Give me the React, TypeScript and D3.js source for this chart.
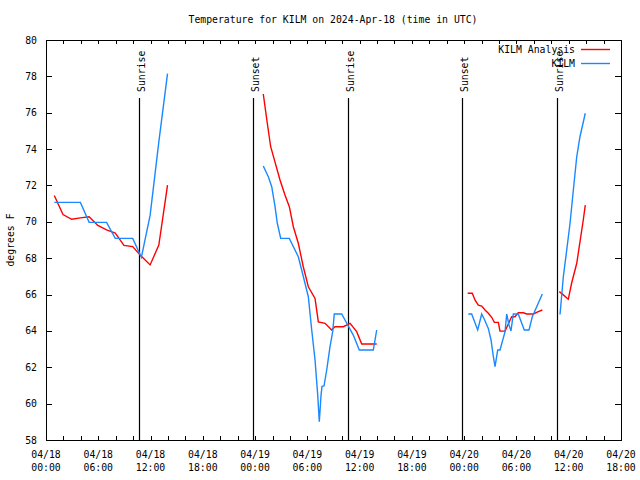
import React from "react";
import * as d3 from "d3";

// ---------- data (hours after 2024-04-18 00:00 UTC, °F) ----------
const analysisSeg1: [number, number][] = [
  [0.95, 71.45], [1.95, 70.4], [2.95, 70.14], [3.95, 70.22], [4.95, 70.28], [5.95, 69.8],
  [6.95, 69.56], [7.95, 69.38], [8.95, 68.7], [9.95, 68.64], [10.95, 68.1], [11.95, 67.63],
  [12.95, 68.72], [13.95, 72.02],
];
const analysisSeg2: [number, number][] = [
  [24.94, 77.03], [25.4, 75.42], [25.79, 74.13], [26.28, 73.3], [26.86, 72.3], [27.43, 71.47],
  [27.93, 70.83], [28.39, 69.73], [28.96, 68.82], [29.53, 67.53], [30.11, 66.43], [30.88, 65.79],
  [31.26, 64.5], [32.03, 64.42], [32.79, 64.05], [33.17, 64.23], [34.13, 64.23], [34.9, 64.42],
  [35.66, 63.96], [36.24, 63.28], [37.96, 63.28],
];
const analysisSeg3: [number, number][] = [
  [48.4, 66.07], [48.93, 66.07], [49.24, 65.7], [49.62, 65.42], [50.01, 65.37], [50.39, 65.15],
  [50.77, 64.97], [51.16, 64.75], [51.46, 64.47], [51.92, 64.47], [52.11, 63.99], [52.69, 63.99],
  [53.45, 64.78], [53.83, 64.78], [54.21, 65.0], [54.79, 65.0], [55.18, 64.93], [55.94, 64.93],
  [56.51, 65.06], [56.97, 65.15],
];
const analysisSeg4: [number, number][] = [
  [58.92, 66.16], [59.38, 65.98], [59.95, 65.74], [60.33, 66.62], [60.92, 67.72], [61.67, 70.1],
  [61.9, 70.92],
];

const obsSeg1: [number, number][] = [
  [0.95, 71.07], [1.95, 71.07], [2.95, 71.07], [3.95, 71.07], [4.95, 69.97], [5.95, 69.97],
  [6.95, 69.97], [7.95, 69.09], [8.95, 69.09], [9.95, 69.09], [10.95, 68.05], [11.95, 70.35],
  [12.95, 74.4], [13.95, 78.15],
];
const obsSeg2: [number, number][] = [
  [24.94, 73.07], [25.52, 72.48], [25.91, 71.93], [26.29, 70.83], [26.55, 69.92], [26.94, 69.09],
  [27.93, 69.09], [28.96, 68.08], [29.35, 67.35], [30.11, 65.88], [30.5, 64.05], [30.88, 62.4],
  [31.19, 60.47], [31.37, 59.0], [31.57, 60.47], [31.68, 60.95], [31.91, 60.97], [32.22, 61.85],
  [32.6, 63.13], [32.91, 63.96], [33.09, 64.93], [33.94, 64.93], [34.52, 64.42], [35.27, 63.77],
  [35.96, 62.95], [37.57, 62.95], [37.96, 64.05],
];
const obsSeg3: [number, number][] = [
  [48.47, 64.93], [48.86, 64.93], [49.55, 64.05], [50.01, 64.93], [50.31, 64.64], [50.77, 64.14],
  [51.08, 63.5], [51.35, 62.58], [51.54, 62.03], [51.85, 62.95], [52.11, 62.95], [52.49, 63.6],
  [52.69, 63.96], [52.88, 64.93], [53.14, 64.33], [53.37, 64.0], [53.64, 64.93], [54.21, 64.93],
  [54.9, 64.05], [55.44, 64.05], [55.82, 64.78], [56.97, 66.03],
];
const obsSeg4: [number, number][] = [
  [59.0, 64.9], [59.38, 66.98], [59.77, 68.45], [60.15, 69.92], [60.53, 71.75], [60.92, 73.58],
  [61.29, 74.68], [61.9, 75.97],
];

const analysisSegments = [analysisSeg1, analysisSeg2, analysisSeg3, analysisSeg4];
const obsSegments = [obsSeg1, obsSeg2, obsSeg3, obsSeg4];

const sunLabels = ["Sunrise", "Sunset", "Sunrise", "Sunset", "Sunrise"];
const sunHours = [10.71, 23.73, 34.7, 47.75, 58.69];

const xTickHours = [0, 6, 12, 18, 24, 30, 36, 42, 48, 54, 60, 66];
const xTickDates = ["04/18", "04/18", "04/18", "04/18", "04/19", "04/19", "04/19", "04/19", "04/20", "04/20", "04/20", "04/20"];
const xTickTimes = ["00:00", "06:00", "12:00", "18:00", "00:00", "06:00", "12:00", "18:00", "00:00", "06:00", "12:00", "18:00"];
const xMinorHours = d3.range(0, 67, 2);
const yTicks = [58, 60, 62, 64, 66, 68, 70, 72, 74, 76, 78, 80];

const seriesNames = ["KILM Analysis", "KILM"];
const seriesColors = ["#ff0000", "#1a88ff"];
const title = "Temperature for KILM on 2024-Apr-18 (time in UTC)";
const yTitle = "degrees F";

const BASE = Date.UTC(2024, 3, 18, 0, 0);
const toDate = (h: number) => new Date(BASE + h * 3600 * 1000);

export default function App() {
  const W = 640, H = 480;
  const L = 46, R = 621, T = 40, B = 440;
  const x = d3.scaleUtc().domain([toDate(0), toDate(66)]).range([L, R]);
  const y = d3.scaleLinear().domain([58, 80]).range([B, T]);
  const line = d3
    .line<[number, number]>()
    .x((d) => x(toDate(d[0])))
    .y((d) => y(d[1]));
  const font = "'DejaVu Sans Mono', monospace";
  const fs = 9.8;

  return (
    <svg
      width={W}
      height={H}
      style={{ position: "absolute", left: 0, top: 0, background: "#fff" }}
      fontFamily={font}
      fontSize={fs}
    >
      <rect x={0} y={0} width={W} height={H} fill="#fff" />
      {/* title */}
      <text x={333} y={23} textAnchor="middle">{title}</text>
      {/* y title */}
      <text transform={`translate(14,240) rotate(-90)`} textAnchor="middle">{yTitle}</text>

      {/* y ticks */}
      {yTicks.map((v) => (
        <g key={"y" + v}>
          <line x1={L} x2={L + 6} y1={Math.round(y(v)) + 0.5} y2={Math.round(y(v)) + 0.5} stroke="#000" />
          <line x1={R - 6} x2={R} y1={Math.round(y(v)) + 0.5} y2={Math.round(y(v)) + 0.5} stroke="#000" />
          <text x={37} y={y(v) + 3.5} textAnchor="end">{v}</text>
        </g>
      ))}
      {/* x ticks */}
      {xMinorHours.map((h) => {
        const xx = Math.round(x(toDate(h))) + 0.5;
        return (
          <g key={"xm" + h}>
            <line x1={xx} x2={xx} y1={B} y2={B - 4} stroke="#000" />
            <line x1={xx} x2={xx} y1={T} y2={T + 4} stroke="#000" />
          </g>
        );
      })}
      {xTickHours.map((h, i) => {
        const xx = x(toDate(h));
        return (
          <g key={"xl" + h}>
            <text x={xx} y={458} textAnchor="middle">{xTickDates[i]}</text>
            <text x={xx} y={471} textAnchor="middle">{xTickTimes[i]}</text>
          </g>
        );
      })}

      {/* sunrise / sunset */}
      {sunHours.map((h, i) => {
        const xx = Math.round(x(toDate(h))) + 0.5;
        return (
          <g key={"sun" + i}>
            <line x1={xx} x2={xx} y1={98} y2={B} stroke="#000" strokeWidth={1.2} />
            <text transform={`translate(${xx + 5.5},92) rotate(-90)`} textAnchor="start">{sunLabels[i]}</text>
          </g>
        );
      })}

      {/* series */}
      {analysisSegments.map((seg, i) => (
        <path key={"a" + i} d={line(seg) || ""} fill="none" stroke={seriesColors[0]} strokeWidth={1.4} />
      ))}
      {obsSegments.map((seg, i) => (
        <path key={"o" + i} d={line(seg) || ""} fill="none" stroke={seriesColors[1]} strokeWidth={1.4} />
      ))}

      {/* border */}
      <rect x={L + 0.5} y={T + 0.5} width={R - L} height={B - T} fill="none" stroke="#000" />

      {/* legend */}
      {seriesNames.map((n, i) => (
        <g key={"lg" + i}>
          <text x={575} y={52.5 + i * 14} textAnchor="end">{n}</text>
          <line x1={581} x2={610} y1={49.5 + i * 14} y2={49.5 + i * 14} stroke={seriesColors[i]} strokeWidth={1.4} />
        </g>
      ))}
    </svg>
  );
}
